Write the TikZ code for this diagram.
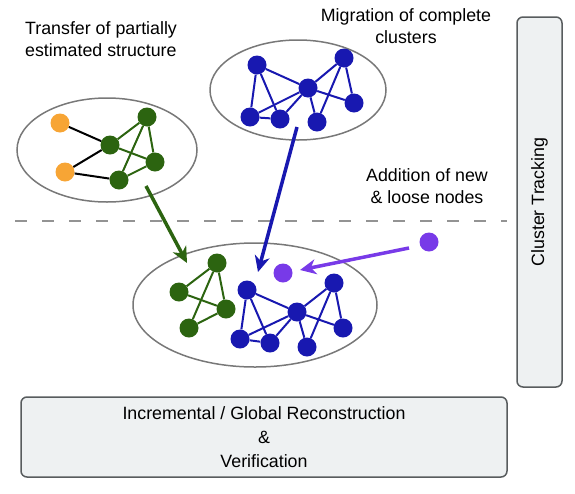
\documentclass[tikz,border=0pt]{standalone}
\usepackage{fontspec}
\setmainfont{Liberation Sans}
\usetikzlibrary{arrows.meta,shapes.geometric}
\definecolor{cgreen}{RGB}{44,100,16}
\definecolor{cblue}{RGB}{24,24,176}
\definecolor{corange}{RGB}{247,165,53}
\definecolor{cpurple}{RGB}{120,58,232}
\definecolor{boxfill}{RGB}{238,241,242}
\definecolor{boxline}{RGB}{88,92,94}
\definecolor{ellline}{RGB}{120,120,120}
\tikzset{
  dot/.style={circle,inner sep=0pt,minimum size=19pt},
  gdot/.style={dot,fill=cgreen},
  bdot/.style={dot,fill=cblue},
  odot/.style={dot,fill=corange},
  pdot/.style={dot,fill=cpurple},
  group/.style={ellipse,draw=ellline,line width=1.5pt,inner sep=0pt},
  gedge/.style={draw=cgreen,line width=2pt},
  bedge/.style={draw=cblue,line width=2pt},
  kedge/.style={draw=black,line width=2pt},
  bigarrow/.style={line width=3.5pt,-{Stealth[length=16pt,width=15pt,inset=5pt]}},
  label/.style={font=\fontsize{17.8}{22}\selectfont,align=center,inner sep=0pt},
  panel/.style={draw=boxline,fill=boxfill,line width=1.5pt,rounded corners=6pt,inner sep=0pt}
}
\begin{document}
\begin{tikzpicture}[x=1pt,y=-1pt]
\useasboundingbox (0,0) rectangle (575,493);
% texts
\node[label,align=left,anchor=west] (t1) at (25,39) {Transfer of partially\\estimated structure};
\node[label] (t2) at (406,26) {Migration of complete\\clusters};
\node[label] (t3) at (427,186) {Addition of new\\\& loose nodes};
% dashed separator
\coordinate (dl) at (15,221);
\coordinate (dr) at (507,221);
\draw[draw=gray!85,line width=2pt,dash pattern=on 12pt off 15pt] (dl) -- (dr);
% right panel
\node[panel,minimum width=45pt,minimum height=370pt] (ct) at (539.5,202) {};
\node[label,rotate=90] (ctt) at (539.5,202) {Cluster Tracking};
% bottom panel
\node[panel,minimum width=486pt,minimum height=80pt] (rv) at (264,437) {};
\node[label,font=\fontsize{17.8}{24}\selectfont] (rvt) at (264,437) {Incremental / Global Reconstruction\\\&\\Verification};
% ellipses
\node[group,minimum width=180pt,minimum height=104pt] (E1) at (107,150) {};
\node[group,minimum width=176pt,minimum height=100pt] (E2) at (298,90) {};
\node[group,minimum width=244pt,minimum height=124pt] (E3) at (255,305) {};
% left cluster
\node[odot] (o1) at (60,123) {};
\node[odot] (o2) at (65,172) {};
\node[gdot] (a1) at (147,117) {};
\node[gdot] (a2) at (110,145) {};
\node[gdot] (a3) at (155,162) {};
\node[gdot] (a4) at (119,180) {};
% top cluster
\node[bdot] (b1) at (257,65) {};
\node[bdot] (b2) at (344,58) {};
\node[bdot] (b3) at (308,88) {};
\node[bdot] (b4) at (250,117) {};
\node[bdot] (b5) at (280,119) {};
\node[bdot] (b6) at (317,122) {};
\node[bdot] (b7) at (354,103) {};
% bottom green
\node[gdot] (g1) at (217,263) {};
\node[gdot] (g2) at (179,292) {};
\node[gdot] (g3) at (226,309) {};
\node[gdot] (g4) at (189,328) {};
% bottom blue
\node[bdot] (c1) at (247,290) {};
\node[bdot] (c2) at (334,283) {};
\node[bdot] (c3) at (297,312) {};
\node[bdot] (c4) at (240,339) {};
\node[bdot] (c5) at (270,343) {};
\node[bdot] (c6) at (307,347) {};
\node[bdot] (c7) at (343,328) {};
% purple
\node[pdot] (p1) at (283,273) {};
\node[pdot] (p2) at (429,242) {};
% edges
\draw[kedge] (o1) -- (a2);
\draw[kedge] (o2) -- (a2);
\draw[kedge] (o2) -- (a4);
\draw[gedge] (a2) -- (a1);
\draw[gedge] (a1) -- (a4);
\draw[gedge] (a1) -- (a3);
\draw[gedge] (a2) -- (a3);
\draw[gedge] (a4) -- (a3);
\draw[bedge] (b1) -- (b4);
\draw[bedge] (b1) -- (b5);
\draw[bedge] (b1) -- (b3);
\draw[bedge] (b4) -- (b5);
\draw[bedge] (b4) -- (b3);
\draw[bedge] (b5) -- (b3);
\draw[bedge] (b3) -- (b6);
\draw[bedge] (b3) -- (b7);
\draw[bedge] (b3) -- (b2);
\draw[bedge] (b2) -- (b6);
\draw[bedge] (b2) -- (b7);
\draw[gedge] (g1) -- (g2);
\draw[gedge] (g1) -- (g4);
\draw[gedge] (g2) -- (g3);
\draw[gedge] (g1) -- (g3);
\draw[gedge] (g3) -- (g4);
\draw[bedge] (c1) -- (c4);
\draw[bedge] (c1) -- (c5);
\draw[bedge] (c1) -- (c3);
\draw[bedge] (c4) -- (c5);
\draw[bedge] (c4) -- (c3);
\draw[bedge] (c5) -- (c3);
\draw[bedge] (c3) -- (c6);
\draw[bedge] (c3) -- (c7);
\draw[bedge] (c3) -- (c2);
\draw[bedge] (c2) -- (c6);
\draw[bedge] (c2) -- (c7);
% arrows
\coordinate (gs) at (146,186);
\coordinate (ge) at (187,263);
\coordinate (bs) at (297,127);
\coordinate (be) at (258,272);
\coordinate (ps) at (409,248);
\coordinate (pe) at (300,270);
\draw[bigarrow,draw=cgreen,fill=cgreen] (gs) -- (ge);
\draw[bigarrow,draw=cblue,fill=cblue] (bs) -- (be);
\draw[bigarrow,draw=cpurple,fill=cpurple] (ps) -- (pe);
\end{tikzpicture}
\end{document}
